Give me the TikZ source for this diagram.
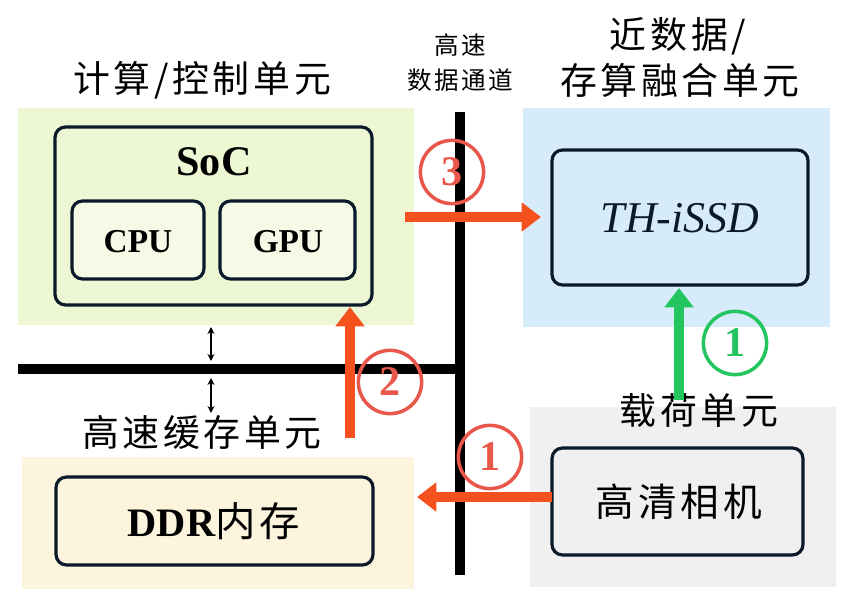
\documentclass[tikz,border=0pt]{standalone}
\usepackage{fontspec}
\setmainfont{Liberation Serif}
\newfontfamily\cjk[LetterSpace=10]{Noto Sans CJK SC}
\usetikzlibrary{arrows.meta}
\definecolor{pgreen}{HTML}{EDF7D4}
\definecolor{pblue}{HTML}{D7ECFA}
\definecolor{pgray}{HTML}{F0F0F0}
\definecolor{pyellow}{HTML}{FCF4DC}
\definecolor{ared}{HTML}{F4511E}
\definecolor{cred}{HTML}{E8574A}
\definecolor{agreen}{HTML}{22C55E}
\definecolor{navy}{HTML}{0B1A2A}
\begin{document}
\begin{tikzpicture}[x=0.02cm,y=-0.02cm,
  unitbox/.style={draw=navy,line width=1.8pt,rounded corners=6pt},
  bus/.style={line width=5.5pt,black},
  flow/.style={line width=5.5pt,ared,-{Triangle[length=11pt,width=16pt]}},
  gflow/.style={line width=5.5pt,agreen,-{Triangle[length=11pt,width=16pt]}},
  num/.style={circle,draw=cred,line width=2pt,minimum size=36pt,inner sep=0pt,text=cred,font=\fontsize{24}{24}\selectfont\bfseries},
  gnum/.style={circle,draw=agreen,line width=2pt,minimum size=36pt,inner sep=0pt,text=agreen,font=\fontsize{24}{24}\selectfont\bfseries},
  title/.style={font=\cjk\fontsize{21}{24}\selectfont},
  small/.style={font=\cjk\fontsize{14}{17}\selectfont},
  dbl/.style={{Stealth[length=4pt,width=4pt]}-{Stealth[length=4pt,width=4pt]},line width=0.9pt}]
\useasboundingbox (0,0) rectangle (853,605);
% panels
\fill[pgreen] (18,108) rectangle (414,325);
\fill[pblue] (523,108) rectangle (830,327);
\fill[pgray] (530,407) rectangle (836,587);
\fill[pyellow] (22,457) rectangle (414,589);
% titles
\node[title] (t1) at (202,80) {计算/控制单元};
\node[title] (t2) at (678,36) {近数据/};
\node[title] (t3) at (680,80) {存算融合单元};
\node[small] (t4) at (460,45) {高速};
\node[small] (t5) at (460,80) {数据通道};
\node[title] (t6) at (202,432) {高速缓存单元};
\node[title] (t7) at (699,410) {载荷单元};
% boxes
\draw[unitbox,fill=pgreen] (55,127) rectangle (372,305);
\node[font=\fontsize{24}{28}\selectfont\bfseries] (soc) at (214,162) {SoC};
\draw[unitbox,fill=pgreen!60!white] (72,201) rectangle (204,279);
\node[font=\fontsize{19}{22}\selectfont\bfseries] (cpu) at (138,242) {CPU};
\draw[unitbox,fill=pgreen!60!white] (220,201) rectangle (355,279);
\node[font=\fontsize{19}{22}\selectfont\bfseries] (gpu) at (288,242) {GPU};
\draw[unitbox,fill=pblue] (552,150) rectangle (808,285);
\node[font=\fontsize{25}{28}\selectfont\itshape,text=navy] (ssd) at (680,218) {TH-\textit{i}SSD};
\draw[unitbox,fill=pgray] (552,448) rectangle (803,555);
\node[font=\cjk\fontsize{22}{24}\selectfont] (cam) at (679,502) {高清相机};
\draw[unitbox,fill=pyellow] (56,477) rectangle (373,565);
\node[font=\fontsize{23}{26}\selectfont\bfseries] (ddr) at (214,521) {DDR\cjk\mdseries 内存};
% buses
\coordinate (hb1) at (18,369);
\coordinate (hb2) at (465,369);
\coordinate (vb1) at (460,112);
\coordinate (vb2) at (460,575);
\draw[bus] (hb1) -- (hb2);
\draw[bus] (vb1) -- (vb2);
\coordinate (d1a) at (211,327);
\coordinate (d1b) at (211,361);
\coordinate (d2a) at (211,378);
\coordinate (d2b) at (211,413);
\draw[dbl] (d1a) -- (d1b);
\draw[dbl] (d2a) -- (d2b);
% flows
\coordinate (f3a) at (405,217);
\coordinate (f3b) at (541,217);
\draw[flow] (f3a) -- (f3b);
\node[num] (n3) at (452,172) {3};
\coordinate (f2a) at (350,438);
\coordinate (f2b) at (350,307);
\draw[flow] (f2a) -- (f2b);
\node[num] (n2) at (390,382) {2};
\coordinate (f1a) at (552,497);
\coordinate (f1b) at (417,497);
\draw[flow] (f1a) -- (f1b);
\node[num] (n1) at (490,457) {1};
\coordinate (g1a) at (679,400);
\coordinate (g1b) at (679,288);
\draw[gflow] (g1a) -- (g1b);
\node[gnum] (gn1) at (735,343) {1};
\end{tikzpicture}
\end{document}
